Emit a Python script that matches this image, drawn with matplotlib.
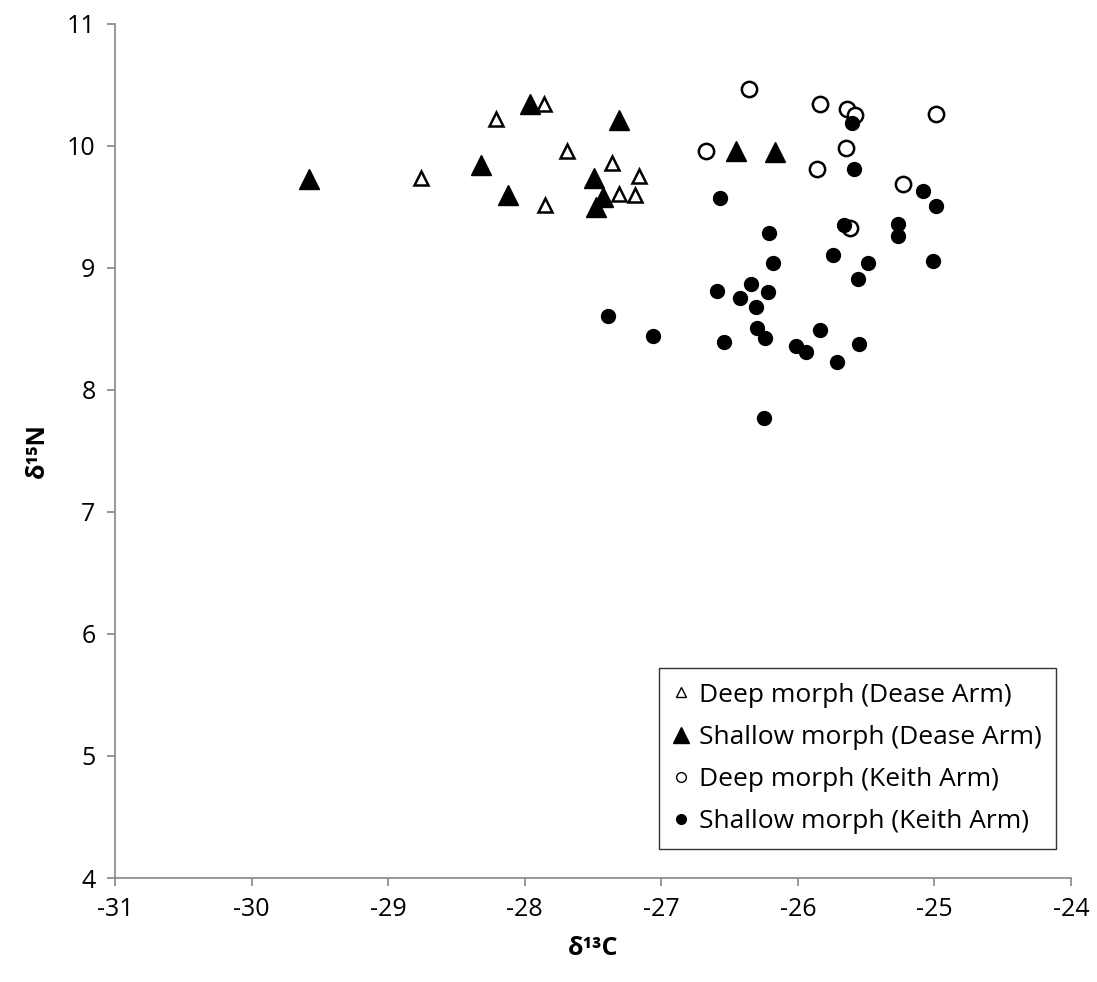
import matplotlib.pyplot as plt
from matplotlib.lines import Line2D

plt.rcParams['font.family'] = ['Open Sans', 'DejaVu Sans']
plt.rcParams['axes.unicode_minus'] = False

# Deep morph (Dease Arm) - open triangles
deep_dease_x = [-28.21, -27.86, -28.76, -27.69, -27.36, -27.16, -27.31, -27.19, -27.85]
deep_dease_y = [10.22, 10.34, 9.74, 9.96, 9.86, 9.75, 9.61, 9.60, 9.52]

# Shallow morph (Dease Arm) - filled triangles
shallow_dease_x = [-29.58, -27.96, -27.31, -28.32, -28.12, -27.49, -27.43, -27.48, -26.45, -26.17]
shallow_dease_y = [9.73, 10.34, 10.21, 9.84, 9.60, 9.74, 9.58, 9.50, 9.96, 9.95]

# Deep morph (Keith Arm) - open circles
deep_keith_x = [-26.36, -25.84, -25.64, -25.58, -24.99, -26.67, -25.65, -25.86, -25.23, -25.62]
deep_keith_y = [10.47, 10.34, 10.30, 10.25, 10.26, 9.96, 9.98, 9.81, 9.69, 9.33]

# Shallow morph (Keith Arm) - filled circles
shallow_keith_x = [-25.60, -25.59, -25.08, -24.99, -26.57, -25.66, -25.27, -25.27, -26.21, -26.18,
                   -25.74, -25.49, -25.01, -25.56, -26.34, -26.59, -26.42, -26.22, -26.31, -27.39,
                   -27.06, -26.54, -26.30, -26.24, -26.01, -25.94, -25.84, -25.55, -25.71, -26.25]
shallow_keith_y = [10.19, 9.81, 9.63, 9.51, 9.57, 9.35, 9.36, 9.26, 9.29, 9.04,
                   9.11, 9.04, 9.06, 8.91, 8.87, 8.81, 8.75, 8.80, 8.68, 8.61,
                   8.44, 8.39, 8.51, 8.43, 8.36, 8.31, 8.49, 8.38, 8.23, 7.77]

labels = ['Deep morph (Dease Arm)', 'Shallow morph (Dease Arm)',
          'Deep morph (Keith Arm)', 'Shallow morph (Keith Arm)']

fig = plt.figure(figsize=(10.97, 9.82), dpi=100)
ax = fig.add_axes([0.1048, 0.1059, 0.8715, 0.8697])

ax.plot(deep_dease_x, deep_dease_y, '^', ms=10, mfc='white', mec='black', mew=1.8, ls='none')
ax.plot(shallow_dease_x, shallow_dease_y, '^', ms=14, color='black', ls='none')
ax.plot(deep_keith_x, deep_keith_y, 'o', ms=11, mfc='white', mec='black', mew=1.8, ls='none')
ax.plot(shallow_keith_x, shallow_keith_y, 'o', ms=10, color='black', ls='none')

ax.set_xlim(-31, -24)
ax.set_ylim(4, 11)
ax.set_xticks(range(-31, -23))
ax.set_yticks(range(4, 12))

for s in ['top', 'right']:
    ax.spines[s].set_visible(False)
for s in ['left', 'bottom']:
    ax.spines[s].set_color('#868686')
    ax.spines[s].set_linewidth(1.2)
ax.tick_params(direction='out', length=6, width=1.2, color='#868686', labelsize=18, pad=8)

ax.set_xlabel('δ¹³C', fontsize=18, fontweight='bold', labelpad=10)
ax.set_ylabel('δ¹⁵N', fontsize=18, fontweight='bold', labelpad=12)

handles = [
    Line2D([], [], marker='^', ls='none', ms=7, mfc='white', mec='black', mew=1.0),
    Line2D([], [], marker='^', ls='none', ms=12, color='black'),
    Line2D([], [], marker='o', ls='none', ms=7, mfc='white', mec='black', mew=1.0),
    Line2D([], [], marker='o', ls='none', ms=7, color='black'),
]
leg = ax.legend(handles, labels, loc='lower right', bbox_to_anchor=(0.998, 0.019),
                fontsize=19, frameon=True, fancybox=False, edgecolor='black',
                handlelength=0.6, handletextpad=0.35, labelspacing=0.65, borderpad=0.55)
leg.get_frame().set_linewidth(1.0)

fig.savefig('out.png', dpi=100)
